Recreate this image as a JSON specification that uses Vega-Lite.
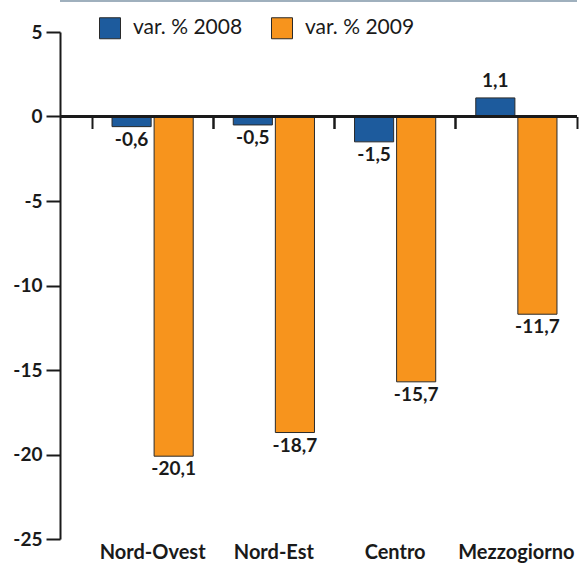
{
  "$schema": "https://vega.github.io/schema/vega-lite/v6.json",
  "width": 517,
  "height": 507,
  "autosize": {"type": "none"},
  "padding": {"left": 60, "top": 32, "right": 4, "bottom": 25},
  "config": {
    "font": "Lato",
    "view": {"stroke": null},
    "locale": {"number": {"decimal": ",", "thousands": ".", "grouping": [3], "currency": ["", " €"], "minus": "-"}},
    "axis": {"grid": false, "domainColor": "#1a1a1a", "tickColor": "#1a1a1a", "labelColor": "#1a1a1a", "labelFont": "Lato", "labelFontWeight": "bold"}
  },
  "data": {"values": [
    {"region": "Nord-Ovest", "series": "var. % 2008", "value": -0.6},
    {"region": "Nord-Ovest", "series": "var. % 2009", "value": -20.1},
    {"region": "Nord-Est", "series": "var. % 2008", "value": -0.5},
    {"region": "Nord-Est", "series": "var. % 2009", "value": -18.7},
    {"region": "Centro", "series": "var. % 2008", "value": -1.5},
    {"region": "Centro", "series": "var. % 2009", "value": -15.7},
    {"region": "Mezzogiorno", "series": "var. % 2008", "value": 1.1},
    {"region": "Mezzogiorno", "series": "var. % 2009", "value": -11.7}
  ]},
  "resolve": {"axis": {"x": "independent", "y": "independent"}},
  "layer": [
    {
      "mark": {"type": "bar", "stroke": "#2a2a2a", "strokeWidth": 1},
      "encoding": {
        "x": {"field": "region", "type": "nominal", "sort": null,
              "scale": {"range": [32, 517], "paddingInner": 0, "paddingOuter": 0},
              "axis": {"orient": "bottom", "title": null, "domain": false, "ticks": false, "labelAngle": 0, "labelFontSize": 20, "labelPadding": 3}},
        "xOffset": {"field": "series", "type": "nominal", "scale": {"paddingInner": 0.07, "paddingOuter": 0.476}},
        "y": {"field": "value", "type": "quantitative",
              "scale": {"domain": [-25, 5], "nice": false, "zero": false},
              "axis": {"orient": "left", "title": null, "values": [5, 0, -5, -10, -15, -20, -25], "tickSize": 14, "tickWidth": 2, "domain": true, "domainWidth": 2, "ticks": true, "labels": true, "labelFontSize": 19, "labelPadding": 4}},
        "color": {"field": "series", "type": "nominal",
                  "scale": {"domain": ["var. % 2008", "var. % 2009"], "range": ["#1d5b9d", "#f7941d"]},
                  "legend": {"title": null, "orient": "none", "direction": "horizontal", "legendX": 39, "legendY": -15,
                             "symbolType": "square", "symbolSize": 441, "symbolStrokeColor": "#2a2a2a", "symbolStrokeWidth": 1,
                             "labelFont": "Lato", "labelFontSize": 21, "labelColor": "#1a1a1a", "labelOffset": 12, "columnPadding": 26}}
      }
    },
    {
      "mark": {"type": "rule", "color": "#1a1a1a", "strokeWidth": 2},
      "encoding": {"y": {"datum": 0, "type": "quantitative", "axis": null}}
    },
    {
      "mark": {"type": "rule", "color": "#9fb0bd", "strokeWidth": 2, "clip": false},
      "encoding": {"y": {"datum": 6.87, "type": "quantitative", "axis": null}}
    },
    {
      "transform": [{"filter": "datum.value < 0"}],
      "mark": {"type": "text", "baseline": "top", "dy": 4, "fontSize": 19, "fontWeight": "bold", "color": "#1a1a1a"},
      "encoding": {
        "x": {"field": "region", "type": "nominal", "sort": null,
              "axis": {"orient": "bottom", "offset": -422.5, "title": null, "domain": false, "labels": false, "ticks": true, "bandPosition": 0, "tickSize": 12, "tickWidth": 2}},
        "xOffset": {"field": "series", "type": "nominal"},
        "y": {"field": "value", "type": "quantitative", "axis": null},
        "text": {"field": "value", "type": "quantitative", "format": ".1f"}
      }
    },
    {
      "transform": [{"filter": "datum.value >= 0"}],
      "mark": {"type": "text", "baseline": "bottom", "dy": -7, "fontSize": 19, "fontWeight": "bold", "color": "#1a1a1a"},
      "encoding": {
        "x": {"field": "region", "type": "nominal", "sort": null,
              "axis": {"orient": "bottom", "offset": -422.5, "title": null, "domain": false, "labels": false, "ticks": true, "bandPosition": 1, "tickSize": 12, "tickWidth": 2}},
        "xOffset": {"field": "series", "type": "nominal"},
        "y": {"field": "value", "type": "quantitative", "axis": null},
        "text": {"field": "value", "type": "quantitative", "format": ".1f"}
      }
    }
  ]
}
